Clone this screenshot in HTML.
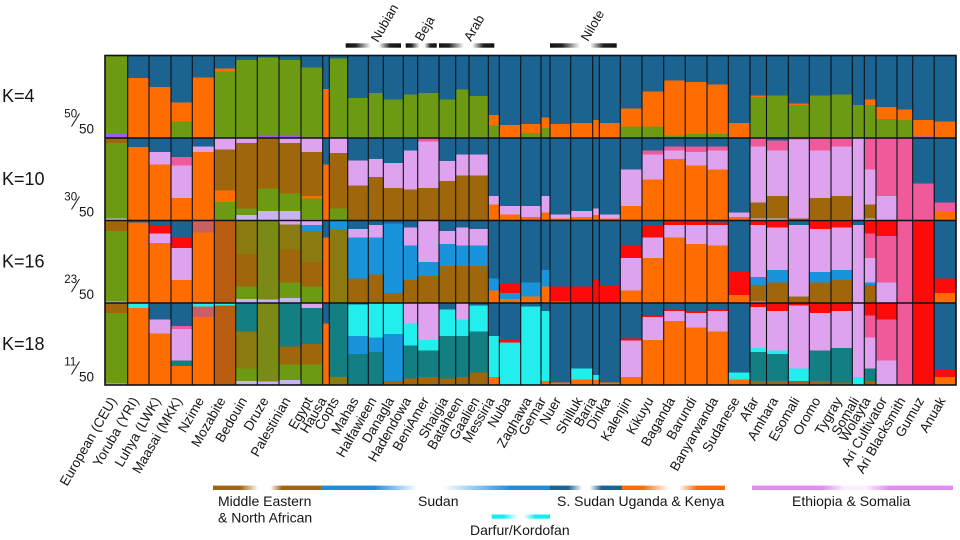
<!DOCTYPE html>
<html><head><meta charset="utf-8">
<style>
html,body{margin:0;padding:0;background:#fff;}
#wrap{position:relative;width:960px;height:540px;overflow:hidden;}
.row{position:absolute;left:0;width:960px;height:82.5px;}
.row i{position:absolute;top:0;height:100%;display:block;}
svg{position:absolute;left:0;top:0;display:block;}
text{font-family:"Liberation Sans",Arial,sans-serif;fill:#151515;}
:root{--b:#1b6390;--o:#ff6c00;--g:#6c9a12;--n:#a0660c;--l:#dea2ef;--p:#f05a9a;--r:#ff0a0a;--s:#1993dc;--c:#22eeee;--t:#147f83;--v:#c8b4f0;--u:#9f5cf2;--y:#8a7a10;--m:#b85c10;--q:#c86060;--h:#7a8a14;}
.c1{left:105px;width:22.7px}.c2{left:127.7px;width:21.3px}.c3{left:149px;width:22px}.c4{left:171px;width:21.3px}.c5{left:192.3px;width:22px}
.c6{left:214.3px;width:21.4px}.c7{left:235.7px;width:21.6px}.c8{left:257.3px;width:21.7px}.c9{left:279px;width:22px}.c10{left:301px;width:21.7px}
.c11{left:322.7px;width:6.6px}.c12{left:329.3px;width:18.4px}.c13{left:347.7px;width:20.6px}.c14{left:368.3px;width:15px}.c15{left:383.3px;width:20px}
.c16{left:403.3px;width:14.4px}.c17{left:417.7px;width:21.3px}.c18{left:439px;width:16.7px}.c19{left:455.7px;width:13.3px}.c20{left:469px;width:19.3px}
.c21{left:488.3px;width:11px}.c22{left:499.3px;width:21.4px}.c23{left:520.7px;width:20.3px}.c24{left:541px;width:9px}.c25{left:550px;width:20.7px}
.c26{left:570.7px;width:22px}.c27{left:592.7px;width:6.6px}.c28{left:599.3px;width:21px}.c29{left:620.3px;width:21.7px}.c30{left:642px;width:21.7px}
.c31{left:663.7px;width:21.5px}.c32{left:685.2px;width:21.8px}.c33{left:707px;width:21.3px}.c34{left:728.3px;width:21.7px}.c35{left:750px;width:16.5px}
.c36{left:766.5px;width:21.8px}.c37{left:788.3px;width:21px}.c38{left:809.3px;width:21.7px}.c39{left:831px;width:21.3px}.c40{left:852.3px;width:12px}
.c41{left:864.3px;width:11.7px}.c42{left:876px;width:21px}.c43{left:897px;width:15.7px}.c44{left:912.7px;width:21.5px}.c45{left:934.2px;width:21.8px}
</style></head>
<body>
<div id="wrap">

<!-- K=4 -->
<div class="row" style="top:55.5px">
<i class="c1" style="background:linear-gradient(var(--g) 95%,var(--u) 0)"></i>
<i class="c2" style="background:linear-gradient(var(--b) 27%,var(--o) 0)"></i>
<i class="c3" style="background:linear-gradient(var(--b) 38%,var(--o) 0)"></i>
<i class="c4" style="background:linear-gradient(var(--b) 57%,var(--o) 0 80%,var(--g) 0)"></i>
<i class="c5" style="background:linear-gradient(var(--b) 26%,var(--o) 0)"></i>
<i class="c6" style="background:linear-gradient(var(--b) 15%,var(--o) 0 19%,var(--g) 0)"></i>
<i class="c7" style="background:linear-gradient(var(--b) 5%,var(--g) 0)"></i>
<i class="c8" style="background:linear-gradient(var(--b) 2%,var(--g) 0 97%,var(--u) 0)"></i>
<i class="c9" style="background:linear-gradient(var(--b) 5%,var(--g) 0 97%,var(--u) 0)"></i>
<i class="c10" style="background:linear-gradient(var(--b) 14%,var(--g) 0)"></i>
<i class="c11" style="background:linear-gradient(var(--b) 40%,var(--o) 0)"></i>
<i class="c12" style="background:linear-gradient(var(--b) 3%,var(--g) 0)"></i>
<i class="c13" style="background:linear-gradient(var(--b) 51%,var(--g) 0)"></i>
<i class="c14" style="background:linear-gradient(var(--b) 45%,var(--g) 0)"></i>
<i class="c15" style="background:linear-gradient(var(--b) 53%,var(--g) 0)"></i>
<i class="c16" style="background:linear-gradient(var(--b) 47%,var(--g) 0)"></i>
<i class="c17" style="background:linear-gradient(var(--b) 45%,var(--g) 0)"></i>
<i class="c18" style="background:linear-gradient(var(--b) 53%,var(--g) 0)"></i>
<i class="c19" style="background:linear-gradient(var(--b) 41%,var(--g) 0)"></i>
<i class="c20" style="background:linear-gradient(var(--b) 49%,var(--g) 0)"></i>
<i class="c21" style="background:linear-gradient(var(--b) 72%,var(--o) 0 85%,var(--g) 0)"></i>
<i class="c22" style="background:linear-gradient(var(--b) 84%,var(--o) 0)"></i>
<i class="c23" style="background:linear-gradient(var(--b) 83%,var(--o) 0 94%,var(--g) 0)"></i>
<i class="c24" style="background:linear-gradient(var(--b) 75%,var(--o) 0 88%,var(--g) 0)"></i>
<i class="c25" style="background:linear-gradient(var(--b) 83%,var(--o) 0)"></i>
<i class="c26" style="background:linear-gradient(var(--b) 82%,var(--o) 0)"></i>
<i class="c27" style="background:linear-gradient(var(--b) 78%,var(--o) 0)"></i>
<i class="c28" style="background:linear-gradient(var(--b) 82%,var(--o) 0)"></i>
<i class="c29" style="background:linear-gradient(var(--b) 64%,var(--o) 0 86%,var(--g) 0)"></i>
<i class="c30" style="background:linear-gradient(var(--b) 43%,var(--o) 0 86%,var(--g) 0)"></i>
<i class="c31" style="background:linear-gradient(var(--b) 30%,var(--o) 0 97%,var(--g) 0)"></i>
<i class="c32" style="background:linear-gradient(var(--b) 32%,var(--o) 0 95%,var(--g) 0)"></i>
<i class="c33" style="background:linear-gradient(var(--b) 35%,var(--o) 0 95%,var(--g) 0)"></i>
<i class="c34" style="background:linear-gradient(var(--b) 82%,var(--o) 0)"></i>
<i class="c35" style="background:linear-gradient(var(--b) 48%,var(--o) 0 50%,var(--g) 0)"></i>
<i class="c36" style="background:linear-gradient(var(--b) 48%,var(--g) 0)"></i>
<i class="c37" style="background:linear-gradient(var(--b) 58%,var(--o) 0 60%,var(--g) 0)"></i>
<i class="c38" style="background:linear-gradient(var(--b) 48%,var(--g) 0)"></i>
<i class="c39" style="background:linear-gradient(var(--b) 47%,var(--g) 0)"></i>
<i class="c40" style="background:linear-gradient(var(--b) 60%,var(--g) 0)"></i>
<i class="c41" style="background:linear-gradient(var(--b) 53%,var(--o) 0 60%,var(--g) 0)"></i>
<i class="c42" style="background:linear-gradient(var(--b) 62%,var(--o) 0 77%,var(--g) 0)"></i>
<i class="c43" style="background:linear-gradient(var(--b) 65%,var(--o) 0 78%,var(--g) 0)"></i>
<i class="c44" style="background:linear-gradient(var(--b) 78%,var(--o) 0 98%,var(--u) 0)"></i>
<i class="c45" style="background:linear-gradient(var(--b) 80%,var(--o) 0)"></i>
</div>

<!-- K=10 -->
<div class="row" style="top:138px">
<i class="c1" style="background:linear-gradient(var(--n) 6%,var(--g) 0 97%,var(--v) 0)"></i>
<i class="c2" style="background:linear-gradient(var(--b) 11%,var(--o) 0)"></i>
<i class="c3" style="background:linear-gradient(var(--b) 17%,var(--l) 0 32%,var(--o) 0)"></i>
<i class="c4" style="background:linear-gradient(var(--b) 23%,var(--p) 0 33%,var(--l) 0 72%,var(--o) 0)"></i>
<i class="c5" style="background:linear-gradient(var(--b) 10%,var(--l) 0 17%,var(--o) 0)"></i>
<i class="c6" style="background:linear-gradient(var(--l) 14%,var(--n) 0 63%,var(--o) 0 77%,var(--g) 0)"></i>
<i class="c7" style="background:linear-gradient(var(--l) 6%,var(--n) 0 85%,var(--g) 0 93%,var(--v) 0)"></i>
<i class="c8" style="background:linear-gradient(var(--n) 61%,var(--g) 0 88%,var(--v) 0)"></i>
<i class="c9" style="background:linear-gradient(var(--l) 6%,var(--n) 0 67%,var(--g) 0 88%,var(--v) 0)"></i>
<i class="c10" style="background:linear-gradient(var(--l) 17%,var(--n) 0 70%,var(--o) 0 73%,var(--g) 0 98%,var(--v) 0)"></i>
<i class="c11" style="background:linear-gradient(var(--b) 32%,var(--o) 0)"></i>
<i class="c12" style="background:linear-gradient(var(--l) 18%,var(--n) 0 85%,var(--g) 0)"></i>
<i class="c13" style="background:linear-gradient(var(--b) 27%,var(--l) 0 57%,var(--n) 0)"></i>
<i class="c14" style="background:linear-gradient(var(--b) 25%,var(--l) 0 47%,var(--n) 0)"></i>
<i class="c15" style="background:linear-gradient(var(--b) 30%,var(--l) 0 60%,var(--n) 0)"></i>
<i class="c16" style="background:linear-gradient(var(--b) 15%,var(--l) 0 62%,var(--n) 0)"></i>
<i class="c17" style="background:linear-gradient(var(--p) 4%,var(--l) 0 60%,var(--n) 0)"></i>
<i class="c18" style="background:linear-gradient(var(--b) 28%,var(--l) 0 52%,var(--n) 0)"></i>
<i class="c19" style="background:linear-gradient(var(--b) 20%,var(--l) 0 45%,var(--n) 0)"></i>
<i class="c20" style="background:linear-gradient(var(--b) 20%,var(--l) 0 45%,var(--n) 0)"></i>
<i class="c21" style="background:linear-gradient(var(--b) 70%,var(--l) 0 80%,var(--o) 0)"></i>
<i class="c22" style="background:linear-gradient(var(--b) 82%,var(--l) 0 92%,var(--o) 0)"></i>
<i class="c23" style="background:linear-gradient(var(--b) 82%,var(--l) 0 95%,var(--o) 0)"></i>
<i class="c24" style="background:linear-gradient(var(--b) 70%,var(--l) 0 90%,var(--o) 0)"></i>
<i class="c25" style="background:linear-gradient(var(--b) 92%,var(--l) 0 97%,var(--o) 0)"></i>
<i class="c26" style="background:linear-gradient(var(--b) 88%,var(--l) 0 95%,var(--o) 0)"></i>
<i class="c27" style="background:linear-gradient(var(--b) 85%,var(--l) 0 93%,var(--o) 0)"></i>
<i class="c28" style="background:linear-gradient(var(--b) 92%,var(--l) 0 97%,var(--o) 0)"></i>
<i class="c29" style="background:linear-gradient(var(--b) 38%,var(--l) 0 82%,var(--o) 0)"></i>
<i class="c30" style="background:linear-gradient(var(--b) 15%,var(--p) 0 20%,var(--l) 0 50%,var(--o) 0)"></i>
<i class="c31" style="background:linear-gradient(var(--b) 10%,var(--p) 0 15%,var(--l) 0 25%,var(--o) 0)"></i>
<i class="c32" style="background:linear-gradient(var(--b) 10%,var(--p) 0 17%,var(--l) 0 33%,var(--o) 0)"></i>
<i class="c33" style="background:linear-gradient(var(--b) 10%,var(--p) 0 15%,var(--l) 0 38%,var(--o) 0)"></i>
<i class="c34" style="background:linear-gradient(var(--b) 90%,var(--l) 0 95%,var(--o) 0)"></i>
<i class="c35" style="background:linear-gradient(var(--p) 10%,var(--l) 0 78%,var(--n) 0 97%,var(--v) 0)"></i>
<i class="c36" style="background:linear-gradient(var(--b) 3%,var(--p) 0 15%,var(--l) 0 70%,var(--n) 0 97%,var(--v) 0)"></i>
<i class="c37" style="background:linear-gradient(var(--p) 2%,var(--l) 0 97%,var(--n) 0)"></i>
<i class="c38" style="background:linear-gradient(var(--p) 15%,var(--l) 0 72%,var(--n) 0 98%,var(--v) 0)"></i>
<i class="c39" style="background:linear-gradient(var(--p) 10%,var(--l) 0 70%,var(--n) 0 98%,var(--v) 0)"></i>
<i class="c40" style="background:var(--l)"></i>
<i class="c41" style="background:linear-gradient(var(--p) 38%,var(--l) 0 80%,var(--n) 0 97%,var(--v) 0)"></i>
<i class="c42" style="background:linear-gradient(var(--p) 70%,var(--l) 0)"></i>
<i class="c43" style="background:var(--p)"></i>
<i class="c44" style="background:linear-gradient(var(--b) 55%,var(--p) 0)"></i>
<i class="c45" style="background:linear-gradient(var(--b) 78%,var(--p) 0 88%,var(--o) 0)"></i>
</div>

<!-- K=16 -->
<div class="row" style="top:220.5px">
<i class="c1" style="background:linear-gradient(var(--n) 12%,var(--g) 0 98%,var(--v) 0)"></i>
<i class="c2" style="background:linear-gradient(var(--b) 2%,var(--o) 0)"></i>
<i class="c3" style="background:linear-gradient(var(--b) 5%,var(--r) 0 15%,var(--l) 0 27%,var(--o) 0)"></i>
<i class="c4" style="background:linear-gradient(var(--b) 20%,var(--r) 0 33%,var(--l) 0 72%,var(--o) 0)"></i>
<i class="c5" style="background:linear-gradient(var(--q) 14%,var(--o) 0)"></i>
<i class="c6" style="background:var(--m)"></i>
<i class="c7" style="background:linear-gradient(var(--y) 40%,var(--n) 0 80%,var(--g) 0 95%,var(--v) 0)"></i>
<i class="c8" style="background:linear-gradient(var(--h) 96%,var(--v) 0)"></i>
<i class="c9" style="background:linear-gradient(var(--l) 4%,var(--y) 0 35%,var(--n) 0 75%,var(--g) 0 94%,var(--v) 0)"></i>
<i class="c10" style="background:linear-gradient(var(--l) 5%,var(--s) 0 12%,var(--y) 0 50%,var(--n) 0 80%,var(--g) 0)"></i>
<i class="c11" style="background:linear-gradient(var(--b) 20%,var(--o) 0)"></i>
<i class="c12" style="background:linear-gradient(var(--s) 10%,var(--y) 0)"></i>
<i class="c13" style="background:linear-gradient(var(--b) 10%,var(--l) 0 20%,var(--s) 0 70%,var(--n) 0)"></i>
<i class="c14" style="background:linear-gradient(var(--b) 5%,var(--l) 0 20%,var(--s) 0 65%,var(--n) 0)"></i>
<i class="c15" style="background:linear-gradient(var(--b) 3%,var(--s) 0 88%,var(--n) 0)"></i>
<i class="c16" style="background:linear-gradient(var(--b) 8%,var(--l) 0 30%,var(--s) 0 72%,var(--n) 0)"></i>
<i class="c17" style="background:linear-gradient(var(--l) 50%,var(--s) 0 67%,var(--n) 0)"></i>
<i class="c18" style="background:linear-gradient(var(--b) 12%,var(--l) 0 28%,var(--s) 0 55%,var(--n) 0)"></i>
<i class="c19" style="background:linear-gradient(var(--b) 8%,var(--l) 0 30%,var(--s) 0 55%,var(--n) 0)"></i>
<i class="c20" style="background:linear-gradient(var(--b) 10%,var(--l) 0 30%,var(--s) 0 55%,var(--n) 0)"></i>
<i class="c21" style="background:linear-gradient(var(--b) 70%,var(--s) 0 85%,var(--o) 0)"></i>
<i class="c22" style="background:linear-gradient(var(--b) 76%,var(--r) 0 88%,var(--s) 0 95%,var(--o) 0)"></i>
<i class="c23" style="background:linear-gradient(var(--b) 75%,var(--s) 0 92%,var(--o) 0)"></i>
<i class="c24" style="background:linear-gradient(var(--b) 60%,var(--s) 0 80%,var(--o) 0)"></i>
<i class="c25" style="background:linear-gradient(var(--b) 80%,var(--r) 0 98%,var(--o) 0)"></i>
<i class="c26" style="background:linear-gradient(var(--b) 80%,var(--r) 0)"></i>
<i class="c27" style="background:linear-gradient(var(--b) 72%,var(--r) 0)"></i>
<i class="c28" style="background:linear-gradient(var(--b) 78%,var(--r) 0)"></i>
<i class="c29" style="background:linear-gradient(var(--b) 30%,var(--r) 0 45%,var(--l) 0 85%,var(--o) 0)"></i>
<i class="c30" style="background:linear-gradient(var(--b) 5%,var(--r) 0 20%,var(--l) 0 45%,var(--o) 0)"></i>
<i class="c31" style="background:linear-gradient(var(--r) 5%,var(--l) 0 20%,var(--o) 0)"></i>
<i class="c32" style="background:linear-gradient(var(--r) 5%,var(--l) 0 28%,var(--o) 0)"></i>
<i class="c33" style="background:linear-gradient(var(--b) 2%,var(--r) 0 5%,var(--l) 0 30%,var(--o) 0)"></i>
<i class="c34" style="background:linear-gradient(var(--b) 62%,var(--r) 0 90%,var(--o) 0)"></i>
<i class="c35" style="background:linear-gradient(var(--r) 5%,var(--l) 0 68%,var(--s) 0 78%,var(--n) 0 98%,var(--v) 0)"></i>
<i class="c36" style="background:linear-gradient(var(--r) 8%,var(--l) 0 60%,var(--s) 0 75%,var(--n) 0)"></i>
<i class="c37" style="background:linear-gradient(var(--b) 5%,var(--l) 0 92%,var(--n) 0)"></i>
<i class="c38" style="background:linear-gradient(var(--r) 10%,var(--l) 0 62%,var(--s) 0 75%,var(--n) 0)"></i>
<i class="c39" style="background:linear-gradient(var(--r) 8%,var(--l) 0 60%,var(--s) 0 72%,var(--n) 0)"></i>
<i class="c40" style="background:linear-gradient(var(--b) 5%,var(--l) 0)"></i>
<i class="c41" style="background:linear-gradient(var(--r) 15%,var(--p) 0 45%,var(--l) 0 75%,var(--s) 0 78%,var(--n) 0)"></i>
<i class="c42" style="background:linear-gradient(var(--r) 18%,var(--p) 0 75%,var(--l) 0)"></i>
<i class="c43" style="background:var(--p)"></i>
<i class="c44" style="background:var(--r)"></i>
<i class="c45" style="background:linear-gradient(var(--b) 70%,var(--r) 0 88%,var(--o) 0)"></i>
</div>

<!-- K=18 -->
<div class="row" style="top:303px;height:82px">
<i class="c1" style="background:linear-gradient(var(--n) 12%,var(--g) 0 98%,var(--v) 0)"></i>
<i class="c2" style="background:linear-gradient(var(--c) 6%,var(--o) 0)"></i>
<i class="c3" style="background:linear-gradient(var(--b) 20%,var(--l) 0 37%,var(--o) 0)"></i>
<i class="c4" style="background:linear-gradient(var(--b) 28%,var(--p) 0 32%,var(--l) 0 70%,var(--t) 0 77%,var(--o) 0)"></i>
<i class="c5" style="background:linear-gradient(var(--c) 4%,var(--q) 0 17%,var(--o) 0)"></i>
<i class="c6" style="background:linear-gradient(var(--c) 3%,var(--m) 0)"></i>
<i class="c7" style="background:linear-gradient(var(--t) 35%,var(--y) 0 80%,var(--g) 0 95%,var(--v) 0)"></i>
<i class="c8" style="background:linear-gradient(var(--h) 96%,var(--v) 0)"></i>
<i class="c9" style="background:linear-gradient(var(--t) 53%,var(--n) 0 75%,var(--g) 0 94%,var(--v) 0)"></i>
<i class="c10" style="background:linear-gradient(var(--l) 6%,var(--t) 0 50%,var(--n) 0 75%,var(--g) 0)"></i>
<i class="c11" style="background:linear-gradient(var(--b) 25%,var(--o) 0)"></i>
<i class="c12" style="background:linear-gradient(var(--t) 90%,var(--y) 0)"></i>
<i class="c13" style="background:linear-gradient(var(--b) 2%,var(--c) 0 40%,var(--s) 0 62%,var(--t) 0)"></i>
<i class="c14" style="background:linear-gradient(var(--c) 42%,var(--s) 0 60%,var(--t) 0)"></i>
<i class="c15" style="background:linear-gradient(var(--c) 38%,var(--s) 0 95%,var(--n) 0)"></i>
<i class="c16" style="background:linear-gradient(var(--l) 25%,var(--c) 0 52%,var(--t) 0 92%,var(--n) 0)"></i>
<i class="c17" style="background:linear-gradient(var(--l) 45%,var(--c) 0 58%,var(--t) 0 90%,var(--n) 0)"></i>
<i class="c18" style="background:linear-gradient(var(--b) 8%,var(--c) 0 40%,var(--t) 0 92%,var(--n) 0)"></i>
<i class="c19" style="background:linear-gradient(var(--l) 20%,var(--c) 0 40%,var(--t) 0 90%,var(--n) 0)"></i>
<i class="c20" style="background:linear-gradient(var(--b) 3%,var(--c) 0 35%,var(--t) 0 85%,var(--n) 0)"></i>
<i class="c21" style="background:linear-gradient(var(--b) 40%,var(--c) 0 90%,var(--o) 0)"></i>
<i class="c22" style="background:linear-gradient(var(--b) 45%,var(--r) 0 48%,var(--c) 0)"></i>
<i class="c23" style="background:linear-gradient(var(--b) 4%,var(--c) 0)"></i>
<i class="c24" style="background:linear-gradient(var(--b) 10%,var(--c) 0 95%,var(--o) 0)"></i>
<i class="c25" style="background:linear-gradient(var(--b) 97%,var(--o) 0)"></i>
<i class="c26" style="background:linear-gradient(var(--b) 80%,var(--c) 0 93%,var(--o) 0)"></i>
<i class="c27" style="background:linear-gradient(var(--b) 88%,var(--c) 0 94%,var(--o) 0)"></i>
<i class="c28" style="background:linear-gradient(var(--b) 97%,var(--o) 0)"></i>
<i class="c29" style="background:linear-gradient(var(--b) 43%,var(--r) 0 46%,var(--l) 0 90%,var(--o) 0)"></i>
<i class="c30" style="background:linear-gradient(var(--b) 15%,var(--r) 0 17%,var(--l) 0 45%,var(--o) 0)"></i>
<i class="c31" style="background:linear-gradient(var(--b) 8%,var(--r) 0 10%,var(--l) 0 22%,var(--o) 0)"></i>
<i class="c32" style="background:linear-gradient(var(--b) 10%,var(--r) 0 12%,var(--l) 0 30%,var(--o) 0)"></i>
<i class="c33" style="background:linear-gradient(var(--b) 8%,var(--r) 0 10%,var(--l) 0 35%,var(--o) 0)"></i>
<i class="c34" style="background:linear-gradient(var(--b) 85%,var(--c) 0 93%,var(--o) 0)"></i>
<i class="c35" style="background:linear-gradient(var(--r) 5%,var(--l) 0 55%,var(--c) 0 60%,var(--t) 0 95%,var(--n) 0)"></i>
<i class="c36" style="background:linear-gradient(var(--r) 10%,var(--l) 0 58%,var(--c) 0 62%,var(--t) 0 95%,var(--n) 0)"></i>
<i class="c37" style="background:linear-gradient(var(--r) 3%,var(--l) 0 80%,var(--c) 0 95%,var(--n) 0)"></i>
<i class="c38" style="background:linear-gradient(var(--r) 12%,var(--l) 0 58%,var(--t) 0 95%,var(--n) 0)"></i>
<i class="c39" style="background:linear-gradient(var(--r) 10%,var(--l) 0 55%,var(--t) 0 97%,var(--n) 0)"></i>
<i class="c40" style="background:linear-gradient(var(--l) 90%,var(--c) 0)"></i>
<i class="c41" style="background:linear-gradient(var(--r) 15%,var(--p) 0 42%,var(--l) 0 80%,var(--t) 0 95%,var(--n) 0)"></i>
<i class="c42" style="background:linear-gradient(var(--r) 20%,var(--p) 0 70%,var(--l) 0)"></i>
<i class="c43" style="background:var(--p)"></i>
<i class="c44" style="background:var(--r)"></i>
<i class="c45" style="background:linear-gradient(var(--b) 82%,var(--r) 0 90%,var(--o) 0)"></i>
</div>

<svg width="960" height="540" viewBox="0 0 960 540" xmlns="http://www.w3.org/2000/svg">
<defs>
<linearGradient id="gk" x1="0" x2="1" y1="0" y2="0">
<stop offset="0" stop-color="#111"/><stop offset="0.18" stop-color="#222"/><stop offset="0.45" stop-color="#fff"/><stop offset="0.6" stop-color="#fff"/><stop offset="0.8" stop-color="#222"/><stop offset="1" stop-color="#111"/>
</linearGradient>
<linearGradient id="gme" x1="0" x2="1" y1="0" y2="0">
<stop offset="0" stop-color="#a0660c"/><stop offset="0.25" stop-color="#a0660c"/><stop offset="0.42" stop-color="#fff"/><stop offset="0.53" stop-color="#fff"/><stop offset="0.64" stop-color="#a0660c"/><stop offset="1" stop-color="#a0660c"/>
</linearGradient>
<linearGradient id="gsu" x1="0" x2="1" y1="0" y2="0">
<stop offset="0" stop-color="#1a8ee0"/><stop offset="0.23" stop-color="#1a8ee0"/><stop offset="0.42" stop-color="#fff"/><stop offset="0.53" stop-color="#fff"/><stop offset="0.83" stop-color="#1a8ee0"/><stop offset="1" stop-color="#1a8ee0"/>
</linearGradient>
<linearGradient id="gdb" x1="0" x2="1" y1="0" y2="0">
<stop offset="0" stop-color="#1b6390"/><stop offset="0.25" stop-color="#1b6390"/><stop offset="0.45" stop-color="#fff"/><stop offset="0.55" stop-color="#fff"/><stop offset="0.72" stop-color="#1b6390"/><stop offset="1" stop-color="#1b6390"/>
</linearGradient>
<linearGradient id="gor" x1="0" x2="1" y1="0" y2="0">
<stop offset="0" stop-color="#ff6c00"/><stop offset="0.2" stop-color="#ff6c00"/><stop offset="0.45" stop-color="#fff"/><stop offset="0.55" stop-color="#fff"/><stop offset="0.73" stop-color="#ff6c00"/><stop offset="1" stop-color="#ff6c00"/>
</linearGradient>
<linearGradient id="get" x1="0" x2="1" y1="0" y2="0">
<stop offset="0" stop-color="#e08ff0"/><stop offset="0.35" stop-color="#e08ff0"/><stop offset="0.46" stop-color="#fbeefd"/><stop offset="0.57" stop-color="#fbeefd"/><stop offset="0.68" stop-color="#e08ff0"/><stop offset="1" stop-color="#e08ff0"/>
</linearGradient>
<linearGradient id="gcy" x1="0" x2="1" y1="0" y2="0">
<stop offset="0" stop-color="#10eef0"/><stop offset="0.2" stop-color="#10eef0"/><stop offset="0.45" stop-color="#fff"/><stop offset="0.55" stop-color="#fff"/><stop offset="0.75" stop-color="#10eef0"/><stop offset="1" stop-color="#10eef0"/>
</linearGradient>
</defs>

<!-- grid lines -->
<path d="M127.7 55.5V385M149 55.5V385M171 55.5V385M192.3 55.5V385M214.3 55.5V385M235.7 55.5V385M257.3 55.5V385M279 55.5V385M301 55.5V385M322.7 55.5V385M329.3 55.5V385M347.7 55.5V385M368.3 55.5V385M383.3 55.5V385M403.3 55.5V385M417.7 55.5V385M439 55.5V385M455.7 55.5V385M469 55.5V385M488.3 55.5V385M499.3 55.5V385M520.7 55.5V385M541 55.5V385M550 55.5V385M570.7 55.5V385M592.7 55.5V385M599.3 55.5V385M620.3 55.5V385M642 55.5V385M663.7 55.5V385M685.2 55.5V385M707 55.5V385M728.3 55.5V385M750 55.5V385M766.5 55.5V385M788.3 55.5V385M809.3 55.5V385M831 55.5V385M852.3 55.5V385M864.3 55.5V385M876 55.5V385M897 55.5V385M912.7 55.5V385M934.2 55.5V385" stroke="#0c1218" stroke-width="1.1" fill="none"/>
<path d="M105 138H956M105 220.5H956M105 303H956" stroke="#0c1218" stroke-width="1.6" fill="none"/>
<rect x="105" y="55.5" width="851" height="329.5" fill="none" stroke="#0c1218" stroke-width="1.6"/>

<!-- top group bars -->
<rect x="345.7" y="43.3" width="55.3" height="4.4" fill="url(#gk)"/>
<rect x="405.7" y="43.3" width="31" height="4.4" fill="url(#gk)"/>
<rect x="439" y="43.3" width="55.3" height="4.4" fill="url(#gk)"/>
<rect x="550" y="43.3" width="66.7" height="4.4" fill="url(#gk)"/>
<g font-size="13">
<text transform="translate(378,43) rotate(-60)">Nubian</text>
<text transform="translate(422,42) rotate(-60)">Beja</text>
<text transform="translate(471,42) rotate(-60)">Arab</text>
<text transform="translate(588,42) rotate(-60)">Nilote</text>
</g>

<!-- K labels -->
<g font-size="18">
<text x="2" y="102">K=4</text>
<text x="2" y="185">K=10</text>
<text x="2" y="267.5">K=16</text>
<text x="2" y="350">K=18</text>
</g>
<g>
<text x="64.3" y="117.3" font-size="11.5">50</text><line x1="71.5" y1="126.5" x2="79.5" y2="113.5" stroke="#151515" stroke-width="1"/><text x="79" y="133.3" font-size="13.5">50</text>
<text x="64.3" y="200.3" font-size="11.5">30</text><line x1="71.5" y1="209.5" x2="79.5" y2="196.5" stroke="#151515" stroke-width="1"/><text x="79" y="216.3" font-size="13.5">50</text>
<text x="64.3" y="282.8" font-size="11.5">23</text><line x1="71.5" y1="292" x2="79.5" y2="279" stroke="#151515" stroke-width="1"/><text x="79" y="298.8" font-size="13.5">50</text>
<text x="64.3" y="365.3" font-size="11.5">11</text><line x1="71.5" y1="374.5" x2="79.5" y2="361.5" stroke="#151515" stroke-width="1"/><text x="79" y="381.3" font-size="13.5">50</text>
</g>

<!-- population labels -->
<g font-size="13.5" text-anchor="end">
<text transform="translate(117,400.5) rotate(-60)">European (CEU)</text>
<text transform="translate(139,400.5) rotate(-60)">Yoruba (YRI)</text>
<text transform="translate(161,400.5) rotate(-60)">Luhya (LWK)</text>
<text transform="translate(182.5,400.5) rotate(-60)">Maasai (MKK)</text>
<text transform="translate(204.5,400.5) rotate(-60)">Nzime</text>
<text transform="translate(226,400.5) rotate(-60)">Mozabite</text>
<text transform="translate(247.5,400.5) rotate(-60)">Bedouin</text>
<text transform="translate(269,400.5) rotate(-60)">Druze</text>
<text transform="translate(291,400.5) rotate(-60)">Palestinian</text>
<text transform="translate(313,400.5) rotate(-60)">Egypt</text>
<text transform="translate(327,400.5) rotate(-60)">Hausa</text>
<text transform="translate(339.5,400.5) rotate(-60)">Copts</text>
<text transform="translate(359,400.5) rotate(-60)">Mahas</text>
<text transform="translate(377,400.5) rotate(-60)">Halfawieen</text>
<text transform="translate(394.5,400.5) rotate(-60)">Danagla</text>
<text transform="translate(411.5,400.5) rotate(-60)">Hadendowa</text>
<text transform="translate(429.5,400.5) rotate(-60)">BeniAmer</text>
<text transform="translate(448.5,400.5) rotate(-60)">Shaigia</text>
<text transform="translate(463.5,400.5) rotate(-60)">Bataheen</text>
<text transform="translate(480,400.5) rotate(-60)">Gaalien</text>
<text transform="translate(495,400.5) rotate(-60)">Messiria</text>
<text transform="translate(511,400.5) rotate(-60)">Nuba</text>
<text transform="translate(532,400.5) rotate(-60)">Zaghawa</text>
<text transform="translate(546.5,400.5) rotate(-60)">Gemar</text>
<text transform="translate(561.5,400.5) rotate(-60)">Nuer</text>
<text transform="translate(583,400.5) rotate(-60)">Shilluk</text>
<text transform="translate(597,400.5) rotate(-60)">Baria</text>
<text transform="translate(611,400.5) rotate(-60)">Dinka</text>
<text transform="translate(632,400.5) rotate(-60)">Kalenjin</text>
<text transform="translate(654,400.5) rotate(-60)">Kikuyu</text>
<text transform="translate(675.5,400.5) rotate(-60)">Baganda</text>
<text transform="translate(697,400.5) rotate(-60)">Barundi</text>
<text transform="translate(718.5,400.5) rotate(-60)">Banyarwanda</text>
<text transform="translate(740,400.5) rotate(-60)">Sudanese</text>
<text transform="translate(759,400.5) rotate(-60)">Afar</text>
<text transform="translate(778.5,400.5) rotate(-60)">Amhara</text>
<text transform="translate(800,400.5) rotate(-60)">Esomali</text>
<text transform="translate(821,400.5) rotate(-60)">Oromo</text>
<text transform="translate(842.5,400.5) rotate(-60)">Tygray</text>
<text transform="translate(859.5,400.5) rotate(-60)">Somali</text>
<text transform="translate(871,400.5) rotate(-60)">Wolayta</text>
<text transform="translate(887.5,400.5) rotate(-60)">Ari Cultivator</text>
<text transform="translate(906,400.5) rotate(-60)">Ari Blacksmith</text>
<text transform="translate(924.5,400.5) rotate(-60)">Gumuz</text>
<text transform="translate(946,400.5) rotate(-60)">Anuak</text>
</g>

<!-- legend bars -->
<rect x="213" y="485.6" width="108" height="4.4" fill="url(#gme)"/>
<rect x="321" y="485.6" width="229" height="4.4" fill="url(#gsu)"/>
<rect x="550" y="485.6" width="72" height="4.4" fill="url(#gdb)"/>
<rect x="622" y="485.6" width="103" height="4.4" fill="url(#gor)"/>
<rect x="752" y="485.6" width="201" height="4.4" fill="url(#get)"/>
<rect x="491.7" y="514.5" width="58.3" height="4.2" fill="url(#gcy)"/>
<g font-size="14">
<text x="218" y="506">Middle Eastern</text>
<text x="218" y="522.5">&amp; North African</text>
<text x="418" y="506">Sudan</text>
<text x="557" y="506">S. Sudan Uganda &amp; Kenya</text>
<text x="792" y="506">Ethiopia &amp; Somalia</text>
<text x="470" y="535">Darfur/Kordofan</text>
</g>
</svg>
</div>
</body></html>
